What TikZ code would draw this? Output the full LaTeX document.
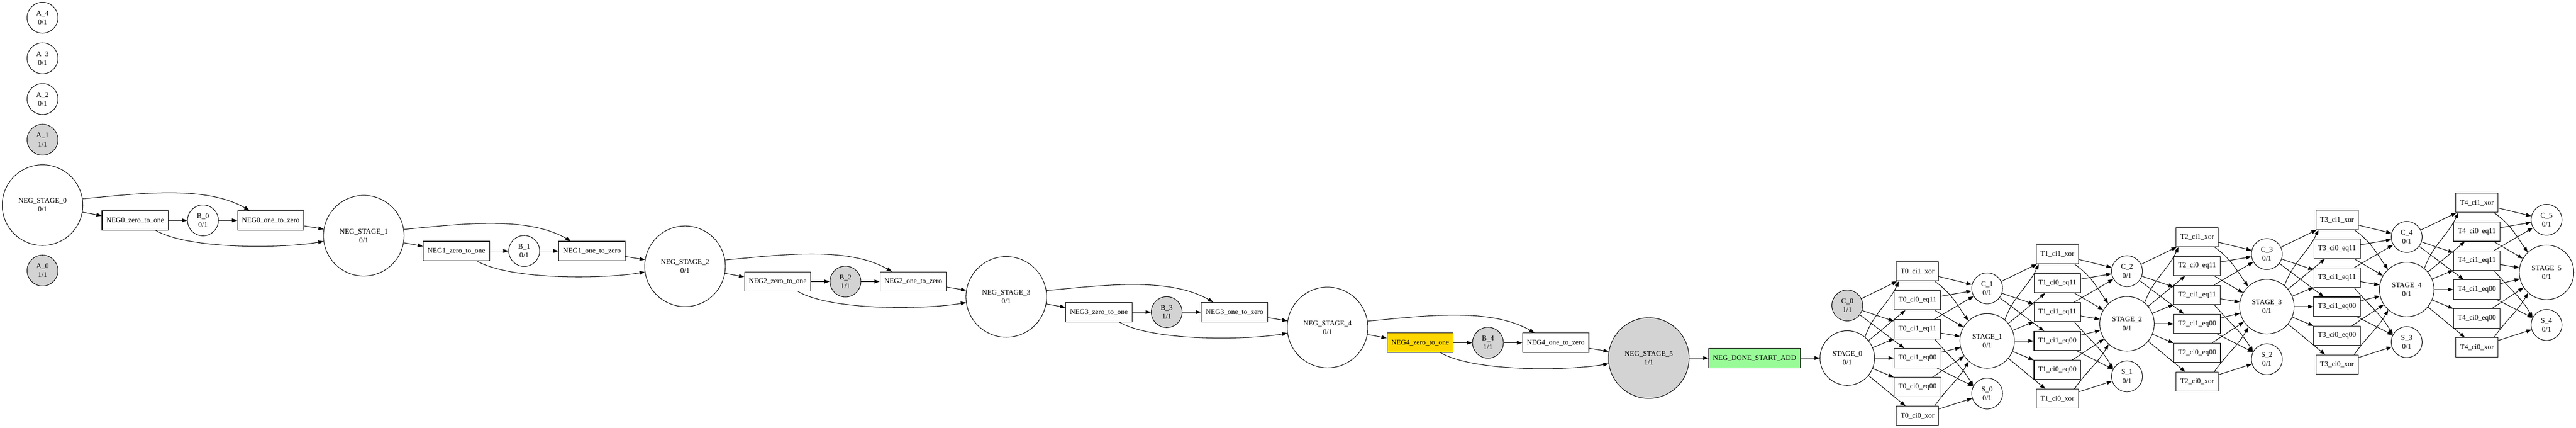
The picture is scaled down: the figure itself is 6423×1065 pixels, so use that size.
\documentclass[tikz,border=0pt]{standalone}
\usepackage{fontspec}
\setmainfont{Liberation Serif}
\usetikzlibrary{arrows.meta}
\definecolor{lgray}{HTML}{D3D3D3}
\definecolor{gold}{HTML}{FFD700}
\definecolor{pgreen}{HTML}{98FB98}
\begin{document}
\begin{tikzpicture}[x=.75pt,y=-.75pt,
	every node/.style={font=\fontsize{13.5}{16.5}\selectfont,align=center,line width=1pt},
	place/.style={draw,circle,inner sep=0pt,minimum size=57.75pt},
	trans/.style={draw,rectangle,inner xsep=8pt,inner ysep=0pt,minimum height=36pt},
	edge/.style={line width=1pt,-{Triangle[length=10pt,width=7pt]}}]
\useasboundingbox (0,0) rectangle (6423,1065);
% loose places
\foreach \k/\tok/\col in {1/1/lgray,2/0/white,3/0/white,4/0/white}
{
	\node[place,fill=\col] (a\k) at (106,{348-101.3*(\k-1)}) {A\_\k\\\tok/1};
}
\node[place,fill=lgray] (a0) at (106,674) {A\_0\\1/1};
% negation chain
\foreach \k/\tok/\col in {0/0/white,1/0/white,2/0/white,3/0/white,4/0/white,5/1/lgray}
{
	\node[place,fill=\col,minimum size=150.75pt] (ns\k) at ({106+801*\k},{511+76.2*\k}) {NEG\_STAGE\_\k\\\tok/1};
}
\foreach \k/\tok/\col/\tcol in {0/0/white/white,1/0/white/white,2/1/lgray/white,3/1/lgray/white,4/1/lgray/gold}
{
	\node[trans,fill=\tcol] (nz\k) at ({337+801*\k},{549+76.2*\k}) {NEG\k\_zero\_to\_one};
	\node[place,fill=\col] (b\k) at ({506+801*\k},{549+76.2*\k}) {B\_\k\\\tok/1};
	\node[trans] (no\k) at ({675+801*\k},{549+76.2*\k}) {NEG\k\_one\_to\_zero};
}
\foreach \k in {0,...,4}
{
	\pgfmathtruncatemacro\nx{\k+1}
	\draw[edge] (ns\k.350) -- (nz\k.172);
	\draw[edge] (ns\k.9) to[out=5,in=150,looseness=.8] (no\k.155);
	\draw[edge] (nz\k) -- (b\k);
	\draw[edge] (b\k) -- (no\k);
	\draw[edge] (no\k) -- (ns\nx);
	\draw[edge] (nz\k.334) to[out=-30,in=190,looseness=.6] (ns\nx.188);
}
\node[trans,fill=pgreen,anchor=east] (done) at (4490,892) {NEG\_DONE\_START\_ADD};
\draw[edge] (ns5) -- (done);
% adder
\foreach \i/\tok/\col in {0/1/lgray,1/0/white,2/0/white,3/0/white,4/0/white,5/0/white}
{
	\node[place,minimum size=102pt] (st\i) at ({4606+348.7*\i},{892-42.7*\i}) {STAGE\_\i\\0/1};
	\node[place,fill=\col] (c\i) at ({4606+348.7*\i},{761-42.7*\i}) {C\_\i\\\tok/1};
}
\foreach \i in {0,...,4}
{
	\node[place] (s\i) at ({4954.7+348.7*\i},{980.3-42.7*\i}) {S\_\i\\0/1};
	\foreach \j/\lab in {1/ci1\_xor,2/ci0\_eq11,3/ci1\_eq11,4/ci1\_eq00,5/ci0\_eq00,6/ci0\_xor}
	{
		\node[trans] (t\i\j) at ({4781+348.7*\i},{604-42.7*\i+72*\j}) {T\i\_\lab};
	}
}
\draw[edge] (done) -- (st0);
\foreach \i in {0,...,4}
{
	\pgfmathtruncatemacro\nx{\i+1}
	\foreach \j in {1,3,4}
		\draw[edge] (c\i) -- (t\i\j);
	\draw[edge] (st\i.50) to[out=70,in=245] (t\i1.208);
	\foreach \j in {2,...,6}
		\draw[edge] (st\i) -- (t\i\j);
	\draw[edge] (t\i1.330) to[out=-35,in=125] (st\nx.133);
	\foreach \j in {2,...,5}
		\draw[edge] (t\i\j) -- (st\nx);
	\draw[edge] (t\i6.30) to[out=55,in=240] (st\nx.228);
	\foreach \j in {1,2,3}
		\draw[edge] (t\i\j) -- (c\nx);
	\draw[edge] (t\i3.330) to[out=-50,in=120] (s\i.152);
	\draw[edge] (t\i4) -- (s\i);
	\draw[edge] (t\i6) -- (s\i);
}
\end{tikzpicture}
\end{document}
